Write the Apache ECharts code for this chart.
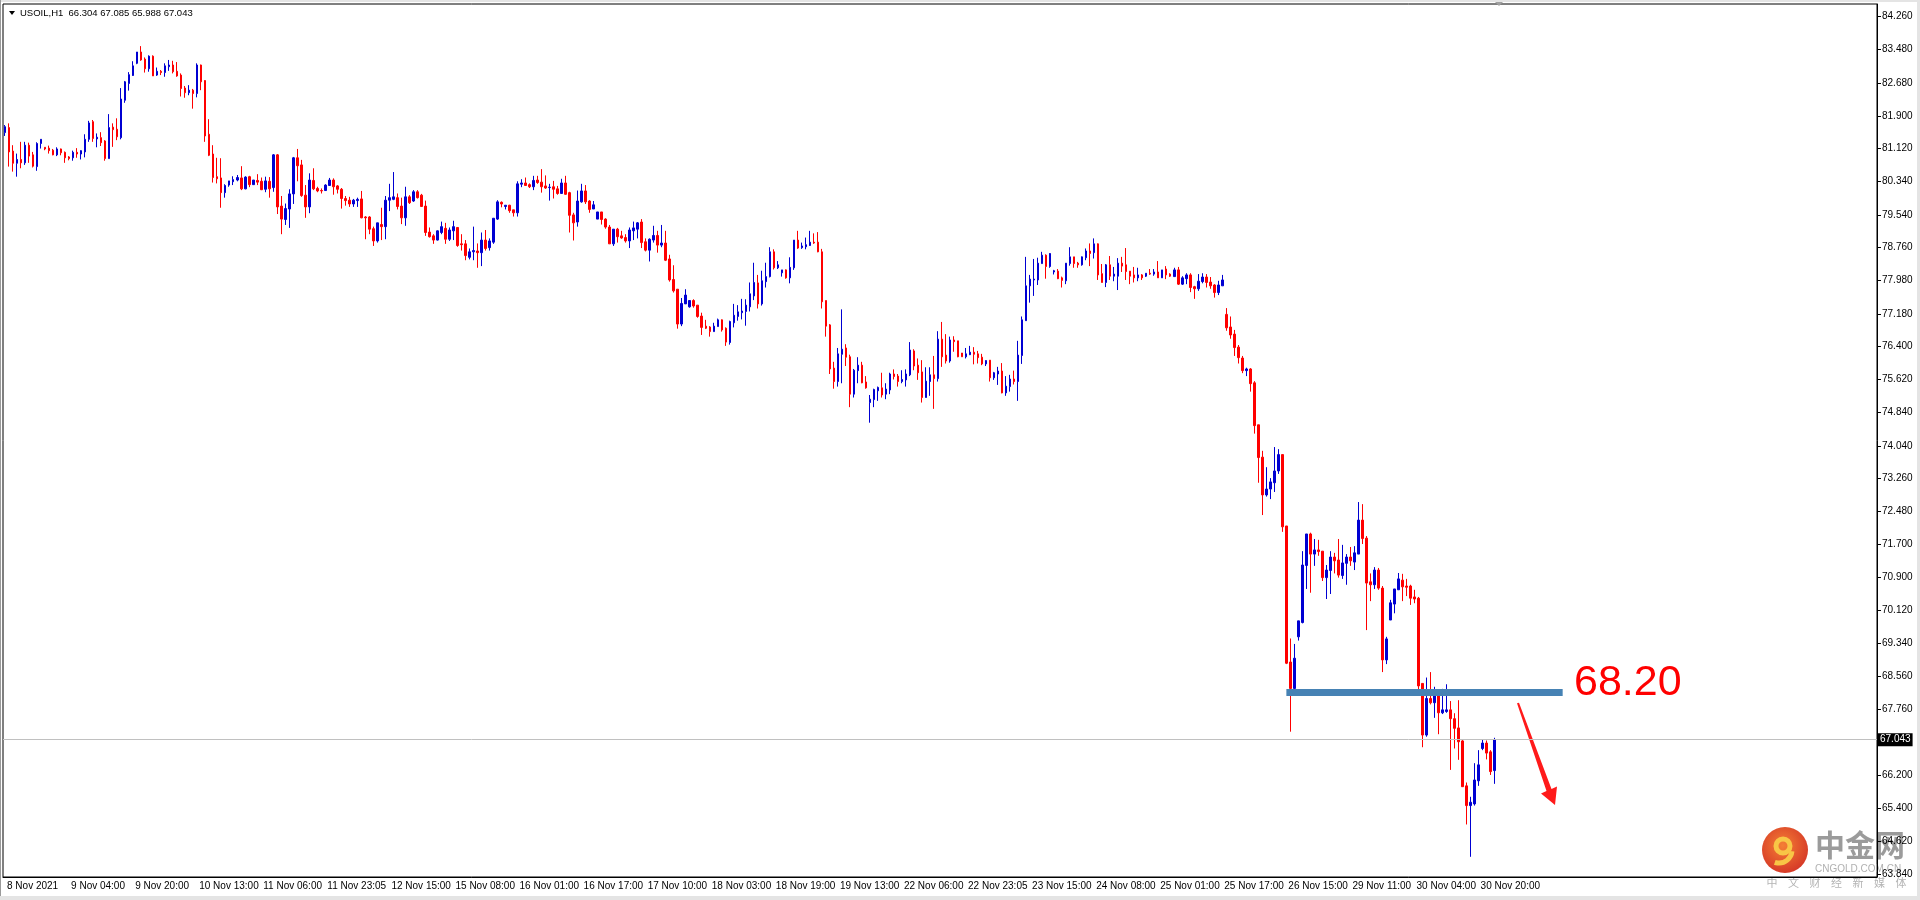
<!DOCTYPE html>
<html><head><meta charset="utf-8">
<script src="https://cdn.jsdelivr.net/npm/echarts@6/dist/echarts.min.js"></script>
<style>html,body{margin:0;padding:0;background:#fff;}#c{width:1920px;height:900px;}</style>
</head><body><div id="c"></div><script>
// Candles [open, close, low, high], USOIL H1
const nov08_10 = [
[81.50,81.64,81.42,81.68],[81.62,81.04,80.69,81.72],[81.06,80.77,80.57,81.20],[80.77,80.86,80.45,81.00],[80.86,80.78,80.65,81.28],
[80.78,81.20,80.73,81.28],[81.20,80.94,80.78,81.26],[80.97,80.70,80.67,81.04],[80.69,81.24,80.59,81.27],[81.24,81.34,81.12,81.34],
[81.15,81.11,81.08,81.15],[81.13,81.07,81.00,81.19],[81.08,80.97,80.96,81.11],[80.97,81.11,80.94,81.15],[81.11,81.02,80.96,81.12],
[81.03,80.90,80.78,81.05],[80.92,80.88,80.84,80.94],[80.90,81.03,80.83,81.07],[81.03,80.99,80.90,81.13],[80.99,81.07,80.86,81.08],
[81.04,81.34,80.91,81.46],[81.34,81.73,81.28,81.78],[81.76,81.36,81.28,81.80],[81.35,81.39,81.15,81.48],[81.38,81.26,81.18,81.51],
[81.30,80.88,80.83,81.32],[80.88,81.62,80.88,81.94],[81.63,81.57,81.16,81.72],[81.58,81.40,81.32,81.84],[81.38,82.30,81.34,82.56],
[82.27,82.71,82.21,82.73],[82.67,82.88,82.50,82.94],[82.86,83.09,82.85,83.20],[83.15,83.42,83.13,83.42],[83.42,83.23,83.21,83.56],
[83.25,83.02,82.93,83.29],[83.02,83.32,82.95,83.34],[83.32,82.85,82.85,83.34],[82.87,82.96,82.85,83.05],[82.96,82.93,82.87,82.99],
[82.93,83.09,82.83,83.15],[83.07,83.11,82.97,83.23],[83.11,82.95,82.91,83.21],[82.96,82.85,82.83,83.18],[82.87,82.55,82.36,82.91],
[82.56,82.45,82.33,82.61],[82.45,82.51,82.39,82.63],[82.51,82.43,82.07,82.54],[82.43,83.11,82.34,83.15],[83.11,82.71,82.51,83.12],
[82.74,81.42,81.28,82.75],[81.46,80.96,80.94,81.82],[80.99,80.43,80.31,81.20],[80.45,80.40,80.29,80.90],[80.42,80.07,79.71,80.89],
[80.07,80.24,79.95,80.27],[80.25,80.35,80.21,80.35],[80.33,80.38,80.25,80.46],[80.37,80.43,80.34,80.49],[80.42,80.16,80.13,80.70],
[80.16,80.44,80.15,80.46],[80.45,80.26,80.20,80.47],[80.26,80.37,80.26,80.37],[80.36,80.32,80.25,80.51],[80.34,80.14,80.13,80.43],
[80.15,80.35,80.08,80.45],[80.34,80.16,79.95,80.44],[80.19,80.97,80.09,80.99],[80.97,79.73,79.56,80.99],[79.75,79.44,79.08,79.99],
[79.43,79.69,79.30,79.81],[79.68,80.04,79.23,80.15],[80.04,80.90,79.80,80.92],[80.90,80.71,80.34,81.11],[80.73,80.00,79.97,80.85],
[80.01,79.73,79.47,80.25],[79.73,80.37,79.58,80.53],[80.36,80.16,80.13,80.65],[80.17,80.11,80.08,80.21],[80.12,80.11,80.05,80.17],
[80.12,80.25,80.11,80.27],[80.24,80.37,80.23,80.42],[80.37,80.21,80.02,80.41],[80.23,80.15,80.05,80.25],[80.15,79.93,79.69,80.18],
[79.93,79.88,79.76,79.99],[79.89,79.80,79.73,79.97],[79.80,79.89,79.73,79.92],[79.88,79.91,79.73,79.95],[79.92,79.47,79.46,80.11],
[79.49,79.47,78.96,79.51],[79.49,79.20,79.08,79.51],[79.21,78.92,78.80,79.26],[78.92,79.35,78.88,79.35],[79.31,79.26,78.94,79.71]
];
const nov11_19 = [
[79.26,79.89,78.96,79.99],[79.89,79.95,79.63,80.28],[79.91,79.97,79.89,80.56],[79.95,79.74,79.67,80.05],[79.75,79.47,79.32,79.95],
[79.47,79.97,79.28,80.21],[79.97,79.83,79.80,80.01],[79.87,80.09,79.85,80.13],[80.09,79.95,79.93,80.13],[80.01,79.74,79.74,80.04],
[79.75,79.12,79.04,79.88],[79.13,79.02,79.00,79.24],[79.04,78.94,78.85,79.08],[78.94,79.16,78.93,79.17],[79.12,79.26,79.08,79.38],
[79.22,78.96,78.85,79.35],[78.96,79.18,78.92,79.24],[79.16,79.26,78.94,79.40],[79.24,78.81,78.78,79.25],[78.85,78.83,78.69,79.08],
[78.85,78.57,78.46,78.94],[78.53,78.66,78.48,78.74],[78.66,78.69,78.46,79.26],[78.68,78.64,78.28,78.86],[78.64,78.94,78.32,79.12],
[78.94,78.74,78.69,79.18],[78.76,78.92,78.69,78.98],[78.89,79.46,78.85,79.46],[79.44,79.85,79.42,79.89],[79.84,79.80,79.72,79.86],
[79.74,79.77,79.67,79.77],[79.77,79.64,79.59,79.78],[79.66,79.59,79.50,79.66],[79.59,80.28,79.50,80.34],[80.27,80.30,80.20,80.39],
[80.30,80.24,80.24,80.43],[80.26,80.21,80.18,80.29],[80.21,80.36,80.13,80.47],[80.37,80.31,80.28,80.47],[80.32,80.21,80.07,80.63],
[80.23,80.18,80.16,80.48],[80.19,80.20,79.88,80.28],[80.21,80.15,79.93,80.35],[80.16,80.05,80.02,80.23],[80.05,80.30,80.05,80.40],
[80.30,80.03,80.02,80.47],[80.07,79.53,79.12,80.09],[79.54,79.35,78.93,79.59],[79.37,79.87,79.26,80.12],[79.85,80.11,79.83,80.28],
[80.11,79.85,79.80,80.25],[79.87,79.67,79.59,79.89],[79.68,79.78,79.68,79.87],[79.44,79.61,79.44,79.61],[79.61,79.43,79.31,79.61],
[79.44,79.25,79.21,79.46],[79.25,78.85,78.85,79.30],[78.85,79.20,78.80,79.20],[79.20,79.02,78.88,79.23],[79.04,78.99,78.97,79.16],
[79.00,78.92,78.88,79.08],[78.92,79.18,78.75,79.24],[79.16,79.23,78.94,79.38],[79.20,79.35,78.98,79.37],[79.37,78.88,78.75,79.44],
[78.90,78.70,78.67,78.98],[78.70,78.96,78.43,78.98],[78.94,79.05,78.88,79.28],[79.05,78.82,78.64,79.16],[78.82,78.87,78.77,79.30],
[78.87,78.46,78.44,79.16],[78.49,77.99,77.95,78.59],[78.00,77.73,77.69,78.34],[77.77,76.94,76.83,77.77],[76.94,77.43,76.89,77.56],
[77.42,77.63,77.42,77.77],[77.35,77.50,77.33,77.51],[77.50,77.37,77.33,77.53],[77.39,77.12,77.09,77.39],[77.13,76.86,76.68,77.21],
[76.89,76.84,76.82,77.04],[76.87,76.76,76.64,76.89],[76.76,76.89,76.76,76.97],[76.88,77.04,76.88,77.07],[77.04,76.80,76.76,77.05],
[76.84,76.51,76.42,76.86],[76.50,77.00,76.45,77.02],[76.97,77.15,76.86,77.42],[77.12,77.23,77.02,77.39],[77.21,77.25,77.05,77.54],
[77.24,77.39,76.90,77.53],[77.35,77.66,77.24,77.93],[77.61,77.93,77.51,78.40],[77.92,77.42,77.31,78.11],[77.42,77.97,77.38,78.21],
[77.95,78.07,77.81,78.40],[78.07,78.66,78.05,78.77],[78.66,78.28,78.24,78.72],[78.28,78.35,78.25,78.44],[78.16,78.23,78.07,78.23],
[78.23,78.04,78.02,78.24],[78.04,78.29,77.91,78.53],[78.28,78.94,78.23,78.94],[78.94,78.75,78.73,79.16],[78.76,78.80,78.73,78.88],
[78.78,78.83,78.72,79.00],[78.81,78.89,78.80,79.16],[78.89,78.87,78.85,79.10],[78.89,78.66,78.65,79.13],[78.66,77.47,77.31,78.73],
[77.50,76.89,76.64,77.50],[76.92,75.87,75.75,76.94],[75.89,75.57,75.40,76.04],[75.57,76.23,75.45,76.37],[76.22,76.34,75.53,77.29],
[76.37,76.15,75.94,76.46],[76.16,75.27,74.96,76.21],[75.27,75.84,75.19,75.87],[75.83,75.96,75.53,76.15],[75.96,75.54,75.53,76.04],
[75.56,75.42,75.40,75.70],[75.07,75.15,74.59,75.25],[75.14,75.38,74.96,75.40],[75.35,75.43,75.11,75.45],[75.42,75.25,75.19,75.78],
[75.27,75.39,75.15,75.53],[75.37,75.75,75.27,75.78],[75.75,75.69,75.62,75.86],[75.70,75.57,75.45,75.75]
];
const nov22_25 = [
[75.57,75.62,75.53,75.84],[75.61,75.75,75.45,75.86],[75.73,76.32,75.70,76.51],[76.30,75.94,75.84,76.34],[75.96,75.78,75.61,76.12],
[75.80,75.19,75.07,76.08],[75.19,75.58,75.19,75.91],[75.57,75.73,75.23,75.91],[75.73,75.64,74.92,76.18],[75.64,76.58,75.57,76.77],
[76.58,76.16,75.92,76.99],[76.20,76.06,76.00,76.70],[76.06,76.56,76.02,76.64],[76.56,76.52,76.28,76.65],[76.54,76.16,76.15,76.54],
[76.25,76.16,76.16,76.25],[76.16,76.23,76.12,76.37],[76.21,76.27,76.20,76.42],[76.27,76.22,75.98,76.39],[76.23,76.14,76.00,76.30],
[76.15,75.99,75.96,76.23],[75.99,76.07,75.94,76.08],[76.08,75.66,75.57,76.08],[75.66,75.78,75.61,75.80],[75.75,75.82,75.49,75.92],
[75.82,75.30,75.29,76.01],[75.30,75.46,75.23,75.70],[75.45,75.63,75.33,75.73],[75.63,75.57,75.50,75.83],[75.57,76.20,75.11,76.54],
[76.19,77.04,75.99,77.12],[77.02,77.85,77.02,78.54],[77.85,78.01,77.45,78.11],[77.99,78.01,77.61,78.49],[77.99,78.39,77.87,78.52],
[78.38,78.58,78.38,78.66],[78.58,78.31,78.02,78.60],[78.31,78.62,78.28,78.63],[78.18,78.21,78.12,78.23],[78.20,78.02,78.01,78.25],
[78.04,77.98,77.81,78.07],[77.97,78.39,77.89,78.39],[78.38,78.54,78.33,78.77],[78.54,78.38,78.28,78.54],[78.39,78.35,78.28,78.42],
[78.35,78.54,78.33,78.55],[78.52,78.68,78.46,78.74],[78.68,78.62,78.32,78.86],[78.64,78.85,78.50,78.98],[78.85,78.11,77.99,78.86],
[78.14,77.93,77.93,78.37],[77.93,78.35,77.82,78.37],[78.35,78.08,77.99,78.56],[78.08,78.13,77.96,78.30],[78.08,78.39,77.75,78.51],
[78.39,78.32,78.18,78.54],[78.35,78.19,77.99,78.75],[78.20,78.08,77.89,78.20],[78.11,78.04,77.93,78.30],[78.04,78.11,77.96,78.28],
[78.11,78.04,77.99,78.13],[78.08,78.15,78.06,78.15],[78.15,78.13,78.11,78.25],[78.13,78.18,78.09,78.25],[78.18,78.04,78.04,78.44],
[78.04,78.23,78.04,78.23],[78.25,78.11,78.01,78.32],[78.13,78.08,78.06,78.15],[78.07,78.23,78.07,78.28],[78.23,77.89,77.87,78.30],
[77.89,78.04,77.87,78.08],[78.02,78.11,77.89,78.15],[78.11,77.81,77.70,78.15],[77.83,77.78,77.54,77.85],[77.78,77.96,77.73,78.13],
[77.95,78.06,77.91,78.15],[78.06,77.93,77.81,78.13],[77.94,77.85,77.78,78.06],[77.87,77.69,77.57,77.89],[77.69,77.87,77.63,77.97],
[77.85,77.99,77.85,78.11]
];
const nov25_30 = [
[77.17,76.85,76.78,77.32],[76.87,76.68,76.59,77.12],[76.70,76.38,76.18,76.80],[76.39,76.14,76.00,76.44],[76.13,75.83,75.77,76.18],
[75.83,75.87,75.70,75.90],[75.87,75.52,75.33,75.89],[75.54,74.52,74.33,75.58],[74.54,73.76,73.16,74.54],[73.77,72.87,72.39,73.92],
[72.87,73.01,72.83,73.53],[73.01,73.18,72.77,73.27],[73.16,73.44,72.94,74.01],[73.44,73.83,73.37,73.96],[73.83,72.11,71.99,73.83],
[72.13,68.86,68.84,72.13],[68.89,68.26,67.23,69.45],[68.26,68.98,68.24,69.32],[69.49,69.87,69.40,69.87],[69.83,71.20,69.81,71.53],
[71.19,71.94,70.63,71.94],[71.94,71.46,70.54,71.97],[71.46,71.56,71.18,71.82],[71.56,71.52,71.42,71.80],[71.53,70.90,70.82,71.53],
[70.90,71.08,70.39,71.20],[71.07,71.39,70.51,71.53],[71.39,71.30,71.00,71.49],[71.32,70.96,70.90,71.82],[70.95,71.25,70.87,71.68],
[71.24,71.39,70.73,71.46],[71.39,71.30,71.18,71.63],[71.27,71.49,71.08,71.65],[71.46,72.27,71.46,72.70],[72.27,71.83,71.70,72.65],
[71.84,70.77,69.65,71.89],[70.80,70.73,70.34,71.00],[70.73,71.08,70.63,71.15],[71.08,70.65,70.61,71.13],[70.65,68.94,68.65,70.70],
[68.94,69.44,68.84,69.49],[69.89,70.30,69.89,70.37],[70.27,70.63,70.05,70.63],[70.61,70.87,70.61,71.01],[70.84,70.68,70.34,70.99],
[70.70,70.67,70.46,70.87],[70.70,70.41,70.25,70.73],[70.44,70.39,70.29,70.61],[70.41,68.32,68.24,70.44],[68.38,67.15,66.86,68.38],
[67.15,68.02,67.11,68.52],[68.02,67.92,67.88,68.65],[67.92,68.20,67.56,68.30],[68.22,67.68,67.17,68.22],[67.68,67.75,67.65,68.25],
[67.71,67.75,67.68,68.36],[67.75,67.54,66.32,67.96],[67.54,67.31,66.83,67.67],[67.32,66.99,66.56,67.98],[67.01,65.92,65.92,67.03],
[65.94,65.47,65.02,66.02],[65.47,65.55,64.25,65.68],[65.51,66.08,65.47,66.48],[66.06,66.44,65.94,66.79],[66.83,66.96,66.79,67.05],
[66.96,66.72,66.57,67.02],[66.75,66.28,66.20,66.79],[66.304,67.043,65.988,67.085]
];
const xLabels = ['8 Nov 2021','9 Nov 04:00','9 Nov 20:00','10 Nov 13:00','11 Nov 06:00','11 Nov 23:05','12 Nov 15:00','15 Nov 08:00',
 '16 Nov 01:00','16 Nov 17:00','17 Nov 10:00','18 Nov 03:00','18 Nov 19:00','19 Nov 13:00','22 Nov 06:00','22 Nov 23:05',
 '23 Nov 15:00','24 Nov 08:00','25 Nov 01:00','25 Nov 17:00','26 Nov 15:00','29 Nov 11:00','30 Nov 04:00','30 Nov 20:00'];
const xLabelBar = [0,16,32,48,64,80,96,112,128,144,160,176,192,208,224,240,256,272,288,304,320,336,352,368];
const yTicks = [84.26,83.48,82.68,81.90,81.12,80.34,79.54,78.76,77.98,77.18,76.40,75.62,74.84,74.04,73.26,72.48,71.70,70.90,70.12,69.34,68.56,67.76,66.20,65.40,64.62,63.84];
const title = 'USOIL,H1  66.304 67.085 65.988 67.043';
const lastClose = 67.043;
const level = 68.17, levelText = '68.20', levelFromBar = 320, levelToBar = 389;

const candles = nov08_10.concat(nov11_19, nov22_25, nov25_30);
const SLOTS = 468; // visible bar slots incl. right margin
const cats = [];
for (let i = 0; i < SLOTS; i++) cats.push('');
xLabelBar.forEach((b, k) => { cats[b] = xLabels[k]; });
const labelSet = new Set(xLabelBar);
const BLUE = '#0000d2', RED = '#ff0000';
const FONT = 'Liberation Sans';
const CJK = "'Noto Sans CJK SC', sans-serif";

const chart = echarts.init(document.getElementById('c'), null, {renderer: 'canvas'});
const logoChars = ['中', '金', '网'];
const tagChars = ['中', '文', '财', '经', '新', '媒', '体'];
const logo = [
  {type: 'circle', shape: {cx: 1785, cy: 850, r: 23}, style: {fill: new echarts.graphic.RadialGradient(0.45, 0.4, 0.6, [{offset: 0, color: '#f4782a'}, {offset: 1, color: '#d4301c'}]), opacity: 0.95}},
  {type: 'arc', shape: {cx: 1783, cy: 846, r: 7, startAngle: 0, endAngle: Math.PI * 2}, style: {stroke: '#f8c646', lineWidth: 5, fill: null}},
  {type: 'arc', shape: {cx: 1779, cy: 850, r: 13, startAngle: 0.1, endAngle: 1.9}, style: {stroke: '#f8c646', lineWidth: 5, fill: null}},
  {type: 'text', x: 1815, y: 869, style: {text: 'CNGOLD.COM.CN', fill: '#a8a8a8', fontSize: 10, fontFamily: FONT, verticalAlign: 'middle', opacity: 0.9}}
];
logoChars.forEach((ch, k) => logo.push({type: 'text', x: 1830 + k * 30, y: 845,
  style: {text: ch, fill: '#8a8a8a', font: 'bold 30px ' + CJK, align: 'center', verticalAlign: 'middle', opacity: 0.85}}));
tagChars.forEach((ch, k) => logo.push({type: 'text', x: 1772 + k * 21.5, y: 883,
  style: {text: ch, fill: '#b4b4b4', font: '11px ' + CJK, align: 'center', verticalAlign: 'middle'}}));

const option = {
  animation: false,
  backgroundColor: '#fff',
  grid: {left: 3, right: 43, top: 4, bottom: 23, show: true, borderColor: '#000', borderWidth: 1},
  xAxis: {
    type: 'category', data: cats, boundaryGap: true,
    axisLine: {lineStyle: {color: '#000', width: 1}},
    axisTick: {alignWithLabel: true, interval: (i) => labelSet.has(i), length: 4, lineStyle: {color: '#000'}},
    axisLabel: {interval: (i) => labelSet.has(i), align: 'left', margin: 4, color: '#000', fontFamily: FONT, fontSize: 10, padding: [0, 0, 0, 2]},
    splitLine: {show: false}
  },
  yAxis: {
    type: 'value', position: 'right', min: 63.769, max: 84.563,
    axisLine: {show: true, lineStyle: {color: '#000'}},
    axisTick: {show: true, customValues: yTicks, length: 4, lineStyle: {color: '#000'}},
    axisLabel: {customValues: yTicks, formatter: (v) => v.toFixed(3), color: '#000', fontFamily: FONT, fontSize: 10, margin: 5},
    splitLine: {show: false}
  },
  series: [{
    type: 'candlestick', data: candles, barWidth: 2,
    itemStyle: {color: BLUE, color0: RED, borderColor: BLUE, borderColor0: RED, borderWidth: 1},
    markLine: {
      silent: true, symbol: ['none', 'none'], animation: false,
      data: [
        {yAxis: lastClose, lineStyle: {color: '#c0c0c0', width: 1, type: 'solid'},
         label: {show: true, position: 'end', formatter: lastClose.toFixed(3), backgroundColor: '#000', color: '#fff', padding: [2, 2, 1, 2], fontSize: 10, fontFamily: FONT, distance: 1}},
        [{coord: [levelFromBar, level], lineStyle: {color: '#4682b4', width: 7, type: 'solid'}, label: {show: false}},
         {coord: [levelToBar, level]}]
      ]
    }
  }],
  graphic: [
    {type: 'rect', shape: {x: 0, y: 0, width: 1920, height: 2}, style: {fill: '#e4e4e4'}, silent: true},
    {type: 'rect', shape: {x: 0, y: 0, width: 1, height: 900}, style: {fill: '#9a9a9a'}, silent: true},
    {type: 'rect', shape: {x: 0, y: 896, width: 1920, height: 4}, style: {fill: '#e4e4e4'}, silent: true},
    {type: 'rect', shape: {x: 1917, y: 0, width: 3, height: 900}, style: {fill: '#e4e4e4'}, silent: true},
    {type: 'polygon', shape: {points: [[9, 11], [15, 11], [12, 15]]}, style: {fill: '#000'}},
    {type: 'text', x: 20, y: 13, style: {text: title, fill: '#000', fontSize: 9.5, fontFamily: FONT, verticalAlign: 'middle'}},
    {type: 'polygon', shape: {points: [[1495, 2], [1503, 2], [1499, 6]]}, style: {fill: '#a0a0a0'}},
    {type: 'text', x: 1574, y: 683, style: {text: levelText, fill: '#ff0000', fontSize: 43, fontFamily: FONT, verticalAlign: 'middle'}},
    {type: 'polygon', shape: {points: [[1517, 703.3], [1546.5, 791], [1541, 793.5], [1555, 805], [1557, 786.5], [1551.5, 789], [1519, 702.7]]}, style: {fill: '#ff1a1a'}},
    {type: 'group', z: 100, children: logo}
  ]
};
chart.setOption(option);
</script></body></html>
